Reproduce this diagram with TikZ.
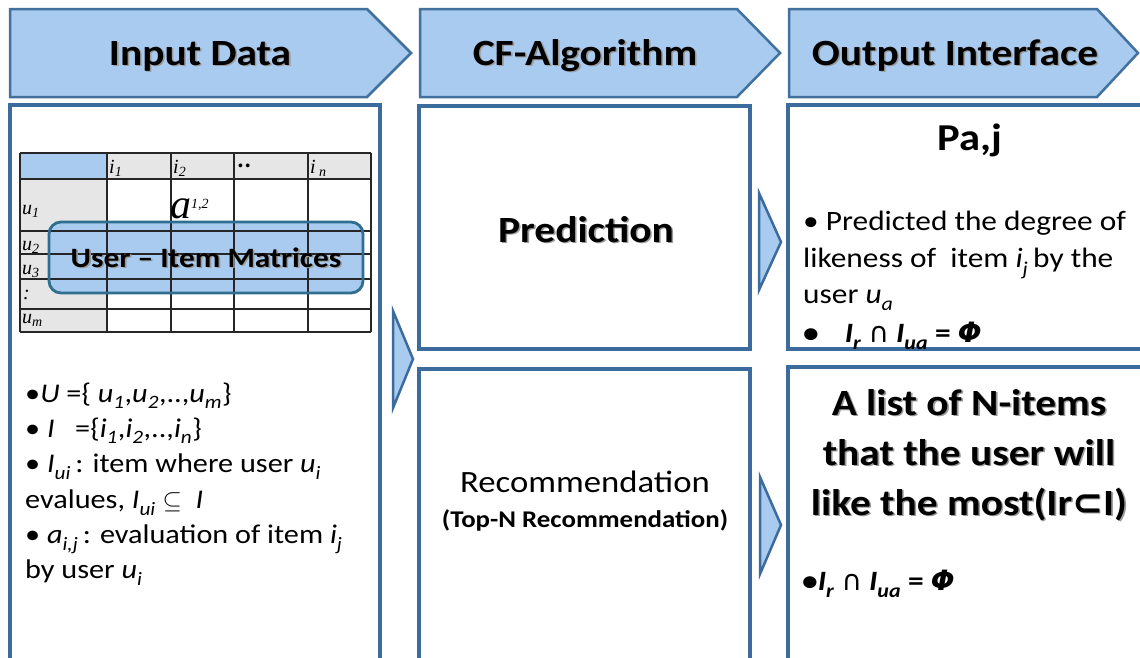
\documentclass[tikz,border=0pt]{standalone}
\usepackage{fontspec}
\setmainfont{Carlito}[FakeStretch=1.12]
\newfontfamily\tabfont{Liberation Serif}
\newfontfamily\symfont{DejaVu Sans}
\usetikzlibrary{calc}

\definecolor{hfill}{HTML}{A8CBEF}
\definecolor{frame}{HTML}{3C6B9E}
\definecolor{hline}{HTML}{41719C}
\definecolor{boxline}{HTML}{2F6E8E}
\definecolor{tgrey}{HTML}{E6E6E6}

% italic subscripts, set a little low
\newcommand\sbi[1]{\raisebox{-0.12em}{\textsubscript{\itshape #1}}}
% symbols taken from DejaVu Sans
\newcommand\capsym{{\symfont\mdseries\upshape ∩}}
\newcommand\phisym{{\symfont\bfseries\itshape Φ}}
% text with a soft drop shadow
\newcommand\shadowed[1]{\leavevmode\rlap{\hspace{1.6pt}\raisebox{-1.6pt}{\textcolor{black!40}{#1}}}#1}

\begin{document}
\begin{tikzpicture}[x=1pt,y=-1pt,
  hdr/.style={draw=hline,line width=2.5pt,fill=hfill,line join=miter},
  panel/.style={draw=frame,line width=3.5pt},
  tri/.style={draw=frame,line width=2.5pt,fill=hfill,line join=miter},
  grid/.style={draw=black!85,line width=1.3pt},
  ctxt/.style={inner sep=0pt,anchor=base},
  hdrtxt/.style={inner sep=0pt,anchor=base,font=\fontsize{37}{42}\selectfont\bfseries},
  body/.style={inner sep=0pt,anchor=base west,font=\fontsize{28}{34}\selectfont},
  lbody/.style={inner sep=0pt,anchor=base west,font=\fontsize{27}{34}\selectfont},
  lab/.style={inner sep=0pt,anchor=base west,font=\tabfont\itshape\fontsize{20}{22}\selectfont},
]
\useasboundingbox (0,0) rectangle (1140,657);
\clip (0,0) rectangle (1140,657);
\fill[white] (0,0) rectangle (1140,657);

% ---- column headers (chevrons) ----
\draw[hdr] (10,9) -- (367,9) -- (411,53) -- (367,97) -- (10,97) -- cycle;
\draw[hdr] (420,9) -- (737,9) -- (780,53) -- (737,97) -- (420,97) -- cycle;
\draw[hdr] (789,9) -- (1097,9) -- (1138,53) -- (1097,97) -- (789,97) -- cycle;
\node[hdrtxt] (h1) at (200,65) {\shadowed{Input Data}};
\node[hdrtxt] (h2) at (585,65) {\shadowed{CF-Algorithm}};
\node[hdrtxt] (h3) at (955,65) {\shadowed{Output Interface}};

% ---- panels ----
\draw[panel] (10,105) rectangle (380,720);
\draw[panel] (419,106) rectangle (750,349);
\draw[panel] (419,369) rectangle (750,720);
\draw[panel] (788,105) rectangle (1170,349);
\draw[panel] (788,367) rectangle (1170,720);

% ---- flow triangles ----
\draw[tri] (393,311) -- (413,359) -- (393,408) -- cycle;
\draw[tri] (759,193) -- (781,242) -- (759,290) -- cycle;
\draw[tri] (760,477) -- (781,525) -- (760,574) -- cycle;

% ---- user-item matrix ----
\fill[tgrey] (20,153) rectangle (371,179);
\fill[tgrey] (20,179) rectangle (107,332);
\fill[hfill] (20,153) rectangle (107,179);
\fill[hfill,rounded corners=12pt] (49,222) rectangle (363,293);
\foreach \x in {20,107,171,234,308,371} \draw[grid] (\x,153) -- (\x,332);
\foreach \y in {153,179,231,254,279,309,332} \draw[grid] (20,\y) -- (371,\y);
\draw[draw=boxline,line width=2.8pt,rounded corners=12pt] (49,222) rectangle (363,293);

\node[lab] (c1) at (109,173) {i\textsubscript{1}};
\node[lab] (c2) at (173,173) {i\textsubscript{2}};
\node[inner sep=0pt,anchor=base west,font=\tabfont\bfseries\fontsize{14}{14}\selectfont] (c3) at (238,170) {•\,•};
\node[lab] (c4) at (310,173) {i\,\textsubscript{n}};
\node[lab] (r1) at (22,214) {u\textsubscript{1}};
\node[lab] (r2) at (22,250) {u\textsubscript{2}};
\node[lab] (r3) at (22,274) {u\textsubscript{3}};
\node[lab] (r4) at (23,299) {:};
\node[lab] (r5) at (22,323) {u\textsubscript{m}};
\node[inner sep=0pt,anchor=base west,font=\tabfont\itshape\fontsize{42}{42}\selectfont] (a12) at (170,218) {a\raisebox{10pt}{\fontsize{14}{14}\selectfont 1,2}};

\node[ctxt,font=\fontsize{28}{32}\selectfont\bfseries] (uim) at (206,267) {\shadowed{User -- Item Matrices}};

% ---- input definitions ----
\node[lbody] (d1) at (25,402) {•\textit{U} =\{ \textit{u}\sbi{1},\textit{u}\sbi{2},..,\textit{u}\sbi{m}\}};
\node[lbody] (d2) at (25,437) {• \textit{I}\ \ \ =\{\textit{i}\sbi{1},\textit{i}\sbi{2},..,\textit{i}\sbi{n}\}};
\node[lbody] (d3) at (25,472) {• \textit{I}\sbi{ui}\,: item where user \textit{u}\sbi{i}};
\node[lbody] (d4) at (25,508) {evalues, \textit{I}\sbi{ui} $\subseteq$\ \ \textit{I}};
\node[lbody] (d5) at (25,543) {• \textit{a}\sbi{i,j}\,: evaluation of item \textit{i}\sbi{j}};
\node[lbody] (d6) at (25,578) {by user \textit{u}\sbi{i}};

% ---- algorithm steps ----
\node[ctxt,font=\fontsize{37}{42}\selectfont\bfseries] (pred) at (586,242) {\shadowed{Prediction}};
\node[ctxt,font=\fontsize{31}{36}\selectfont] (rec) at (585,492) {Recommendation};
\node[ctxt,font=\fontsize{24}{28}\selectfont\bfseries] (topn) at (585,527) {(Top-N Recommendation)};

% ---- outputs ----
\node[ctxt,font=\fontsize{38}{44}\selectfont\bfseries] (paj) at (970,150) {Pa,j};
\node[body] (o1) at (803,230) {• Predicted the degree of};
\node[body] (o2) at (803,267) {likeness of\ \ item \textit{i}\sbi{j}\,by the};
\node[body] (o3) at (803,303) {user \textit{u}\sbi{a}};
\node[body,font=\fontsize{28}{34}\selectfont\bfseries] (o4) at (803,342) {•\hspace{26pt}\textit{I}\sbi{r} \capsym\ \textit{I}\sbi{ua} = \phisym};

\node[ctxt,font=\fontsize{37}{42}\selectfont\bfseries] (n1) at (969,415) {\shadowed{A list of N-items}};
\node[ctxt,font=\fontsize{37}{42}\selectfont\bfseries] (n2) at (969,465) {\shadowed{that the user will}};
\node[ctxt,font=\fontsize{37}{42}\selectfont\bfseries] (n3) at (969,515) {\shadowed{like the most(Ir{\symfont\bfseries ⊂}I)}};
\node[body,font=\fontsize{28}{34}\selectfont\bfseries] (o5) at (802,590) {•\textit{I}\sbi{r} \capsym\ \textit{I}\sbi{ua} = \phisym};
\end{tikzpicture}
\end{document}
